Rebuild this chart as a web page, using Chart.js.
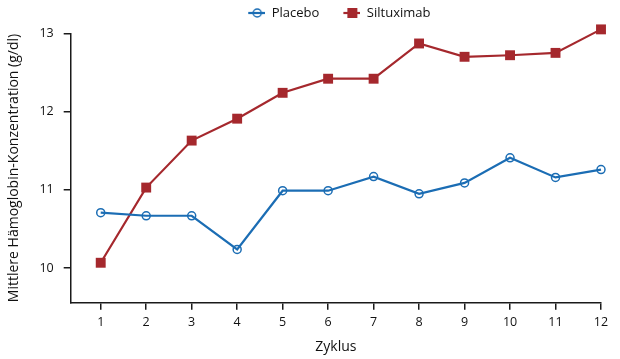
<!DOCTYPE html>
<html>
<head>
<meta charset="utf-8">
<script src="https://cdn.jsdelivr.net/npm/chart.js@4.4.1/dist/chart.umd.min.js"></script>
<style>
html,body{margin:0;padding:0;background:#fff;}
#wrap{width:620px;height:359px;position:relative;}
</style>
</head>
<body>
<div id="wrap"><canvas id="c" width="620" height="359"></canvas></div>
<script>
const cycles = [1,2,3,4,5,6,7,8,9,10,11,12];
const placebo = [10.71,10.67,10.67,10.24,10.99,10.99,11.17,10.95,11.09,11.41,11.16,11.26];
const siltuximab = [10.07,11.03,11.63,11.91,12.24,12.42,12.42,12.87,12.70,12.72,12.75,13.05];
const yTicks = [10,11,12,13];
const seriesNames = ['Placebo','Siltuximab'];

const BLUE = '#1b6db4';
const RED = '#a5282d';
const FONT = "'Open Sans', sans-serif";

function legendImg(kind, color){
  const c = document.createElement('canvas');
  c.width = 28; c.height = 14;
  const g = c.getContext('2d');
  g.strokeStyle = color; g.lineWidth = 2.2;
  g.beginPath(); g.moveTo(11,7); g.lineTo(28,7); g.stroke();
  if(kind==='circle'){
    g.lineWidth = 1.5;
    g.beginPath(); g.arc(20,7,4,0,Math.PI*2); g.stroke();
  } else {
    g.fillStyle = color;
    g.fillRect(15,2,10,10);
  }
  return c;
}
const legendImgs = [legendImg('circle',BLUE), legendImg('rect',RED)];

const legendTweak = {
  id: 'legendTweak',
  afterInit(chart){
    const lg = chart.legend;
    if(!lg) return;
    const origFit = lg.fit.bind(lg);
    lg.fit = function(){ origFit(); this.height = 39.8; this.minSize && (this.minSize.height = 39.8); };
  },
  afterLayout(chart){
    const lg = chart.legend;
    if(!lg) return;
    const ca = chart.chartArea;
    const shift = (ca.left + ca.right)/2 - (lg.left + lg.right)/2 - 2;
    lg.left += shift; lg.right += shift;
  }
};

new Chart(document.getElementById('c'), {
  type: 'line',
  plugins: [legendTweak],
  data: {
    datasets: [
      {
        label: seriesNames[0],
        data: cycles.map((x,i)=>({x:x,y:placebo[i]})),
        borderColor: BLUE, borderWidth: 2.2,
        pointStyle: 'circle', pointRadius: 4, pointBorderWidth: 1.5,
        pointBackgroundColor: 'rgba(0,0,0,0)', pointBorderColor: BLUE,
        tension: 0, clip: false
      },
      {
        label: seriesNames[1],
        data: cycles.map((x,i)=>({x:x,y:siltuximab[i]})),
        borderColor: RED, borderWidth: 2.2,
        pointStyle: 'rect', pointRadius: 7, pointBorderWidth: 0,
        pointBackgroundColor: RED, pointBorderColor: RED,
        tension: 0, clip: false
      }
    ]
  },
  options: {
    responsive: false,
    animation: false,
    events: [],
    layout: { padding: { top: -6.5, right: 19, left: 0, bottom: 0 } },
    plugins: {
      tooltip: { enabled: false },
      legend: {
        position: 'top',
        align: 'center',
        labels: {
          usePointStyle: true,
          pointStyleWidth: 28,
          padding: 13,
          color: '#111',
          font: { family: FONT, size: 13 },
          generateLabels: function(chart){
            const items = Chart.defaults.plugins.legend.labels.generateLabels(chart);
            items.forEach((it,i)=>{ it.pointStyle = legendImgs[i]; });
            return items;
          }
        }
      }
    },
    scales: {
      x: {
        type: 'linear',
        min: 0.34, max: 12,
        afterBuildTicks: s => { s.ticks = cycles.map(v=>({value:v})); },
        afterFit: s => { s.height = 56.3; },
        border: { display: true, color: '#1a1a1a', width: 1.5 },
        grid: { display: true, drawOnChartArea: false, drawTicks: true, tickLength: 7, color: '#1a1a1a', lineWidth: 1.5 },
        ticks: { color: '#111', font: { family: FONT, size: 12.5 }, padding: 5, maxRotation: 0, autoSkip: false },
        title: { display: true, text: 'Zyklus', color: '#111', font: { family: FONT, size: 14 }, padding: { top: 0, bottom: 3.6 } }
      },
      y: {
        type: 'linear',
        min: 9.56, max: 13,
        afterBuildTicks: s => { s.ticks = yTicks.map(v=>({value:v})); },
        afterFit: s => { s.width = 70.7; },
        border: { display: true, color: '#1a1a1a', width: 1.5 },
        grid: { display: true, drawOnChartArea: false, drawTicks: true, tickLength: 7, color: '#1a1a1a', lineWidth: 1.5 },
        ticks: { color: '#111', font: { family: FONT, size: 12.5 }, padding: 10 },
        title: { display: true, text: 'Mittlere Hämoglobin-Konzentration (g/dl)', color: '#111', font: { family: FONT, size: 14 }, padding: { top: 5.6, bottom: 0 } }
      }
    }
  }
});
</script>
</body>
</html>
